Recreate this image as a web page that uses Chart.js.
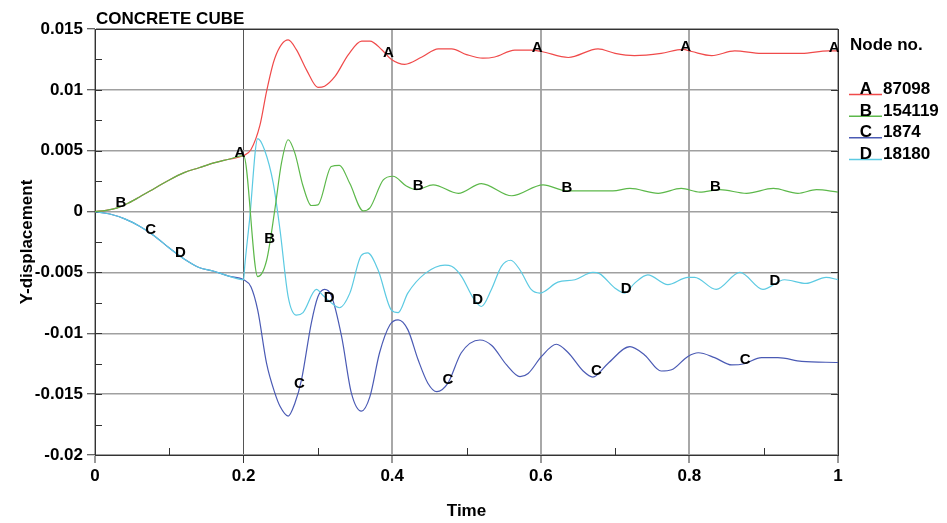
<!DOCTYPE html>
<html><head><meta charset="utf-8">
<script src="https://cdn.jsdelivr.net/npm/chart.js@4/dist/chart.umd.min.js"></script>
<style>html,body{margin:0;padding:0;background:#fff;}canvas{display:block;}</style>
</head><body>
<canvas id="c" width="947" height="523"></canvas>
<script>
const chartTitle = 'CONCRETE CUBE';
const xTitle = 'Time';
const yTitle = 'Y-displacement';
const legendTitle = 'Node no.';
const seriesLetters = ['A', 'B', 'C', 'D'];
const nodeIds = ['87098', '154119', '1874', '18180'];
const seriesColors = ['#f04a4a', '#5cb84a', '#4a5ab4', '#5ccae2'];

const xTickValues = [0, 0.2, 0.4, 0.6, 0.8, 1];
const xTickLabels = ['0', '0.2', '0.4', '0.6', '0.8', '1'];
const xMinorTicks = [0.1, 0.3, 0.5, 0.7, 0.9];
const yTickValues = [-0.02, -0.015, -0.01, -0.005, 0, 0.005, 0.01, 0.015];
const yTickLabels = ['-0.02', '-0.015', '-0.01', '-0.005', '0', '0.005', '0.01', '0.015'];
const yMinorTicks = [-0.0175, -0.0125, -0.0075, -0.0025, 0.0025, 0.0075, 0.0125];

// Node A (87098)
const timeA = [0, 0.015, 0.03, 0.045, 0.06, 0.08, 0.1, 0.12, 0.14, 0.16, 0.18, 0.2,
  0.21, 0.222, 0.231, 0.242, 0.26, 0.271, 0.285, 0.3, 0.309, 0.323, 0.341, 0.359, 0.37, 0.386, 0.399, 0.417,
  0.44, 0.462, 0.48, 0.5, 0.522, 0.538, 0.565, 0.587, 0.601, 0.637, 0.677, 0.7, 0.726, 0.762, 0.791, 0.803,
  0.83, 0.861, 0.897, 0.951, 0.987, 1.0];
const dispA = [0, 0.0001, 0.0003, 0.0007, 0.0012, 0.0019, 0.0026, 0.0032, 0.0036, 0.004, 0.0043, 0.0046,
  0.0051, 0.0071, 0.0099, 0.0126, 0.0141, 0.0133, 0.0116, 0.0102, 0.0103, 0.0111, 0.0129, 0.014, 0.014, 0.0133, 0.0125, 0.0121,
  0.0127, 0.01337, 0.01337, 0.0129, 0.0126, 0.0127, 0.01327, 0.01327, 0.01315, 0.01266, 0.01337, 0.013, 0.01282, 0.013, 0.01332, 0.01315,
  0.01282, 0.0132, 0.013, 0.013, 0.0132, 0.0132];

// Node B (154119)
const timeB = [0, 0.015, 0.03, 0.045, 0.06, 0.08, 0.1, 0.12, 0.14, 0.16, 0.18, 0.2,
  0.219, 0.231, 0.242, 0.251, 0.26, 0.269, 0.28, 0.291, 0.3, 0.318, 0.329, 0.343, 0.361, 0.37, 0.388, 0.401,
  0.419, 0.433, 0.455, 0.489, 0.52, 0.561, 0.603, 0.635, 0.697, 0.72, 0.758, 0.789, 0.814, 0.841, 0.877,
  0.913, 0.946, 0.971, 1.0];
const dispB = [0, 0.0001, 0.0003, 0.0007, 0.0012, 0.0019, 0.0026, 0.0032, 0.0036, 0.004, 0.0043, 0.0046,
  -0.00534, -0.004, 0.00014, 0.004, 0.0059, 0.0048, 0.0021, 0.0005, 0.00055, 0.0037, 0.0038, 0.0023, 0.00006, 0.0003, 0.0026, 0.0029,
  0.0021, 0.0018, 0.0022, 0.0015, 0.0023, 0.0013, 0.0022, 0.0017, 0.0017, 0.0019, 0.0015, 0.0019, 0.0016, 0.0018, 0.0015,
  0.0019, 0.0015, 0.0018, 0.0016];

// Node C (1874)
const timeC = [0, 0.02, 0.04, 0.06, 0.08, 0.1, 0.12, 0.14, 0.16, 0.18, 0.2,
  0.21, 0.219, 0.231, 0.242, 0.249, 0.26, 0.269, 0.278, 0.291, 0.3, 0.309, 0.318, 0.332, 0.345, 0.3585, 0.37,
  0.383, 0.397, 0.408, 0.421, 0.435, 0.448, 0.46, 0.475, 0.493, 0.518, 0.534, 0.554, 0.572, 0.583, 0.601,
  0.621, 0.637, 0.657, 0.67, 0.69, 0.72, 0.74, 0.762, 0.776, 0.798, 0.812, 0.834, 0.857, 0.874, 0.897,
  0.919, 0.951, 1.0];
const dispC = [0, -0.0002, -0.0006, -0.0012, -0.002, -0.003, -0.0039, -0.0046, -0.0049, -0.0053, -0.0056,
  -0.0062, -0.0081, -0.0125, -0.0149, -0.016, -0.0168, -0.01575, -0.0138, -0.0092, -0.007, -0.0064, -0.0069, -0.0103, -0.0149, -0.0164, -0.0152,
  -0.0116, -0.0093, -0.0089, -0.0097, -0.0122, -0.0141, -0.0148, -0.0141, -0.0116, -0.01055, -0.011, -0.0126, -0.01356, -0.0133, -0.0119,
  -0.0109, -0.0116, -0.0131, -0.0136, -0.0125, -0.0111, -0.0118, -0.0131, -0.013, -0.0119, -0.0116, -0.012, -0.0126, -0.0125, -0.012,
  -0.012, -0.0123, -0.0124];

// Node D (18180)
const timeD = [0, 0.02, 0.04, 0.06, 0.08, 0.1, 0.12, 0.14, 0.16, 0.18, 0.2,
  0.2015, 0.208, 0.219, 0.228, 0.24, 0.249, 0.26, 0.271, 0.28, 0.298, 0.307, 0.318, 0.329, 0.343, 0.3585, 0.367,
  0.381, 0.399, 0.408, 0.421, 0.444, 0.471, 0.48, 0.493, 0.509, 0.52, 0.5335, 0.547, 0.5595, 0.572, 0.587,
  0.5985, 0.623, 0.646, 0.67, 0.679, 0.7, 0.713, 0.726, 0.744, 0.771, 0.798, 0.807, 0.836, 0.868, 0.899,
  0.928, 0.957, 0.984, 1.0];
const dispD = [0, -0.0002, -0.0006, -0.0012, -0.002, -0.003, -0.0039, -0.0046, -0.0049, -0.0053, -0.0056,
  -0.0045, -0.0007, 0.006, 0.0051, 0.0023, -0.0015, -0.007, -0.0085, -0.0083, -0.0064, -0.0069, -0.0075, -0.0079, -0.0067, -0.0036, -0.0034,
  -0.0048, -0.0081, -0.0083, -0.0067, -0.0051, -0.0044, -0.0045, -0.0053, -0.0071, -0.0078, -0.0064, -0.0045, -0.004, -0.0048, -0.0064,
  -0.0067, -0.0058, -0.0056, -0.005, -0.0051, -0.0063, -0.0067, -0.0059, -0.0052, -0.006, -0.0054, -0.0054, -0.0064, -0.005, -0.0064,
  -0.0056, -0.0059, -0.0054, -0.0056];

// curve-letter positions (times)
const labelTimesA = [0.195, 0.395, 0.595, 0.795, 0.995];
const labelTimesB = [0.035, 0.235, 0.435, 0.635, 0.835];
const labelTimesC = [0.075, 0.275, 0.475, 0.675, 0.875];
const labelTimesD = [0.115, 0.315, 0.515, 0.715, 0.915];

const seriesTimes = [timeA, timeB, timeC, timeD];
const seriesDisp = [dispA, dispB, dispC, dispD];
const seriesLabelTimes = [labelTimesA, labelTimesB, labelTimesC, labelTimesD];

const FONT = '"Liberation Sans", Arial, sans-serif';

function interp(ts, vs, t) {
  if (t <= ts[0]) return vs[0];
  for (let i = 1; i < ts.length; i++) {
    if (t <= ts[i]) {
      const f = (t - ts[i - 1]) / (ts[i] - ts[i - 1]);
      return vs[i - 1] + f * (vs[i] - vs[i - 1]);
    }
  }
  return vs[vs.length - 1];
}

const datasets = seriesLetters.map((L, k) => ({
  label: L + ' ' + nodeIds[k],
  data: seriesTimes[k].map((t, i) => ({ x: t, y: seriesDisp[k][i] })),
  borderColor: seriesColors[k],
  borderWidth: 1.2,
  pointRadius: 0,
  fill: false,
  cubicInterpolationMode: 'monotone',
  order: [1, 0, 3, 2][k]
}));

const decor = {
  id: 'decor',
  beforeDatasetsDraw(chart) {
    const { ctx, chartArea: a, scales: { x, y } } = chart;
    ctx.save();
    ctx.strokeStyle = '#333';
    ctx.lineWidth = 1;
    ctx.beginPath();
    yMinorTicks.forEach(v => {
      const py = Math.round(y.getPixelForValue(v)) + 0.5;
      ctx.moveTo(a.left, py); ctx.lineTo(a.left + 7, py);
    });
    yTickValues.forEach(v => {
      const py = Math.round(y.getPixelForValue(v)) + 0.5;
      ctx.moveTo(a.left, py); ctx.lineTo(a.left + 7, py);
      ctx.moveTo(a.right, py); ctx.lineTo(a.right - 7, py);
    });
    xMinorTicks.forEach(v => {
      const px = Math.round(x.getPixelForValue(v)) + 0.5;
      ctx.moveTo(px, a.bottom); ctx.lineTo(px, a.bottom - 7);
    });
    ctx.stroke();
    ctx.strokeRect(Math.round(a.left) + 0.5, Math.round(a.top) + 0.5,
      Math.round(a.right - a.left), Math.round(a.bottom - a.top));
    ctx.restore();
  },
  afterDatasetsDraw(chart) {
    const { ctx, scales: { x, y } } = chart;
    ctx.save();
    ctx.fillStyle = '#000';
    ctx.font = 'bold 15px ' + FONT;
    ctx.textAlign = 'center';
    ctx.textBaseline = 'alphabetic';
    seriesLetters.forEach((L, k) => {
      seriesLabelTimes[k].forEach(t => {
        const v = interp(seriesTimes[k], seriesDisp[k], t);
        const px = x.getPixelForValue(t);
        const py = y.getPixelForValue(v);
        ctx.fillText(L, px, py + 1);
      });
    });
    ctx.restore();
  },
  afterDraw(chart) {
    const { ctx, chartArea: a } = chart;
    ctx.save();
    ctx.fillStyle = '#000';
    ctx.font = 'bold 17px ' + FONT;
    ctx.textAlign = 'left';
    ctx.textBaseline = 'alphabetic';
    ctx.fillText(chartTitle, a.left + 1, 23.5);
    const lx = a.right + 12;
    ctx.fillText(legendTitle, lx, 50);
    seriesLetters.forEach((L, k) => {
      const base = 94 + k * 21.67;
      ctx.strokeStyle = seriesColors[k];
      ctx.lineWidth = 1.5;
      ctx.beginPath();
      ctx.moveTo(lx - 1, base + 0.5); ctx.lineTo(lx + 32, base + 0.5);
      ctx.stroke();
      ctx.fillStyle = '#000';
      ctx.textAlign = 'center';
      ctx.fillText(L, lx + 16, base);
      ctx.textAlign = 'left';
      ctx.fillText(nodeIds[k], lx + 33, base);
    });
    ctx.restore();
  }
};

new Chart(document.getElementById('c'), {
  type: 'line',
  data: { datasets },
  options: {
    responsive: false,
    animation: false,
    devicePixelRatio: 1,
    layout: { padding: { top: 29, right: 109, left: 0, bottom: 0 } },
    plugins: { legend: { display: false }, tooltip: { enabled: false }, title: { display: false } },
    scales: {
      x: {
        type: 'linear', min: 0, max: 1,
        afterFit(s) { s.height = 68; },
        afterBuildTicks(s) { s.ticks = xTickValues.map(v => ({ value: v })); },
        ticks: {
          color: '#000', padding: 5,
          font: { family: FONT, size: 17, weight: 'bold', lineHeight: 1 },
          callback: (v, i) => xTickLabels[i],
          maxRotation: 0, autoSkip: false
        },
        grid: {
          color: c => (c.tick && Math.abs(c.tick.value - 0.2) < 1e-9) ? '#555' : '#a8a8a8',
          lineWidth: c => (c.tick && Math.abs(c.tick.value - 0.2) < 1e-9) ? 1 : 2,
          drawTicks: true, tickLength: 8, tickColor: '#333', tickWidth: 1
        },
        border: { display: true, color: '#333', width: 1 },
        title: { display: true, text: xTitle, color: '#000', font: { family: FONT, size: 17, weight: 'bold' }, padding: { top: 0, bottom: 1 } }
      },
      y: {
        type: 'linear', min: -0.02, max: 0.015,
        afterFit(s) { s.width = 95; },
        afterBuildTicks(s) { s.ticks = yTickValues.map(v => ({ value: v })); },
        ticks: {
          color: '#000', padding: 4,
          font: { family: FONT, size: 17, weight: 'bold' },
          callback: (v, i) => yTickLabels[i],
          autoSkip: false
        },
        grid: {
          color: '#a0a0a0', lineWidth: 1.5,
          drawTicks: true, tickLength: 8, tickColor: '#333', tickWidth: 1
        },
        border: { display: true, color: '#333', width: 1 },
        title: { display: true, text: yTitle, color: '#000', font: { family: FONT, size: 17, weight: 'bold' }, padding: { top: 17, bottom: 0 } }
      }
    }
  },
  plugins: [decor]
});
</script>
</body></html>
